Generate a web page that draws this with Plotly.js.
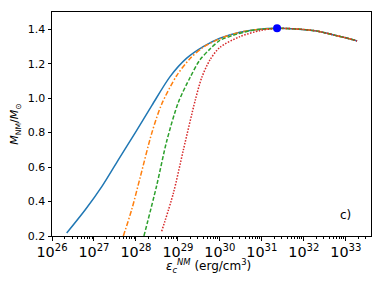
<!DOCTYPE html>
<html><head><meta charset="utf-8">
<script src="https://cdn.plot.ly/plotly-3.0.1.min.js"></script>
<style>body{margin:0;padding:0;background:#fff}#chart{width:384px;height:288px}</style>
</head><body><div id="chart"></div>
<script>
// Energy density (erg/cm^3) and mass (M_sun)
const blueX = [2.24e26, 6.2e26, 1.55e27, 3.8e27, 9.5e27, 2.4e28, 6.5e28, 1.62e29, 4.0e29, 1.0e30, 3.0e30, 8.0e30, 2.3e31, 6.3e31, 2.0e32, 5.1e32, 1.0e33, 1.86e33];
const blueY = [0.217, 0.352, 0.488, 0.642, 0.797, 0.958, 1.125, 1.232, 1.299, 1.348, 1.383, 1.399, 1.405, 1.402, 1.39, 1.367, 1.35, 1.332];
const orangeX = [5.0e27, 7.9e27, 1.26e28, 2.4e28, 4.1e28, 9.3e28, 1.95e29, 4.0e29, 1.0e30, 3.0e30, 8.0e30, 2.3e31, 6.3e31, 2.0e32, 5.1e32, 1.0e33, 1.86e33];
const orangeY = [0.2, 0.352, 0.54, 0.8, 0.965, 1.13, 1.23, 1.295, 1.345, 1.383, 1.399, 1.405, 1.402, 1.39, 1.367, 1.35, 1.332];
const greenX = [1.55e28, 3.1e28, 5.4e28, 1.02e29, 1.95e29, 3.3e29, 5.8e29, 1.0e30, 2.1e30, 5.0e30, 1.0e31, 2.3e31, 6.3e31, 2.0e32, 5.1e32, 1.0e33, 1.86e33];
const greenY = [0.2, 0.49, 0.75, 0.975, 1.12, 1.22, 1.285, 1.335, 1.365, 1.39, 1.4, 1.405, 1.402, 1.39, 1.367, 1.35, 1.332];
const redX = [4.1e28, 7.8e28, 1.35e29, 2.6e29, 3.7e29, 5.8e29, 1.0e30, 3.0e30, 9.1e30, 2.3e31, 6.3e31, 2.0e32, 5.1e32, 1.0e33, 1.86e33];
const redY = [0.227, 0.449, 0.7, 0.99, 1.12, 1.222, 1.295, 1.357, 1.392, 1.405, 1.402, 1.39, 1.367, 1.35, 1.332];
const maxX = [2.3e31];
const maxY = [1.405];
const panelLabel = 'c)';
const xTitle = '<i>ε</i><sub><i>c</i></sub><sup><i>NM</i></sup> (erg/cm<sup>3</sup>)';
const yTitle = '<i>M</i><sub>NM</sub>/<i>M</i><sub>⊙</sub>';

const traces = [
  {x: blueX, y: blueY, mode: 'lines', line: {color: '#1f77b4', width: 1.5, shape: 'spline', smoothing: 0.8}},
  {x: orangeX, y: orangeY, mode: 'lines', line: {color: '#ff7f0e', width: 1.5, dash: '5px,2px,1.5px,2px', shape: 'spline', smoothing: 0.8}},
  {x: greenX, y: greenY, mode: 'lines', line: {color: '#2ca02c', width: 1.5, dash: '4px,2px', shape: 'spline', smoothing: 0.8}},
  {x: redX, y: redY, mode: 'lines', line: {color: '#d62728', width: 1.5, dash: '1.5px,1.5px', shape: 'spline', smoothing: 0.8}},
  {x: maxX, y: maxY, mode: 'markers', marker: {color: '#0000ff', size: 8}}
];

const fam = 'DejaVu Sans, sans-serif';
const layout = {
  width: 384, height: 288,
  margin: {l: 52, r: 13, t: 12, b: 52},
  paper_bgcolor: '#fff', plot_bgcolor: '#fff',
  showlegend: false,
  font: {family: fam, size: 11, color: '#000'},
  xaxis: {
    type: 'log', range: [26, 33.6],
    dtick: 1, exponentformat: 'power',
    showgrid: false, zeroline: false,
    showline: true, mirror: true, linecolor: '#000', linewidth: 1,
    ticks: 'outside', ticklen: 3.5, tickcolor: '#000',
    minor: {ticks: 'outside', ticklen: 2, dtick: 'D1', tickcolor: '#000', showgrid: false},
    tickfont: {family: fam, size: 11.5, color: '#000'}
  },
  yaxis: {
    range: [0.2, 1.5],
    tickvals: [0.2, 0.4, 0.6, 0.8, 1.0, 1.2, 1.4],
    ticktext: ['0.2', '0.4', '0.6', '0.8', '1.0', '1.2', '1.4'],
    showgrid: false, zeroline: false,
    showline: true, mirror: true, linecolor: '#000', linewidth: 1,
    ticks: 'outside', ticklen: 3.5, tickcolor: '#000',
    tickfont: {family: fam, size: 11, color: '#000'},
    title: {text: yTitle, font: {family: fam, size: 11, color: '#000'}, standoff: 6}
  },
  annotations: [
    {x: 33.0, y: 0.32, xref: 'x', yref: 'y', text: panelLabel, showarrow: false,
     font: {family: fam, size: 12, color: '#000'}},
    {x: 0.49, y: -0.132, xref: 'paper', yref: 'paper', xanchor: 'center', yanchor: 'middle',
     text: xTitle, showarrow: false, font: {family: fam, size: 12, color: '#000'}}
  ]
};
Plotly.newPlot('chart', traces, layout, {staticPlot: true, displayModeBar: false});
</script></body></html>
